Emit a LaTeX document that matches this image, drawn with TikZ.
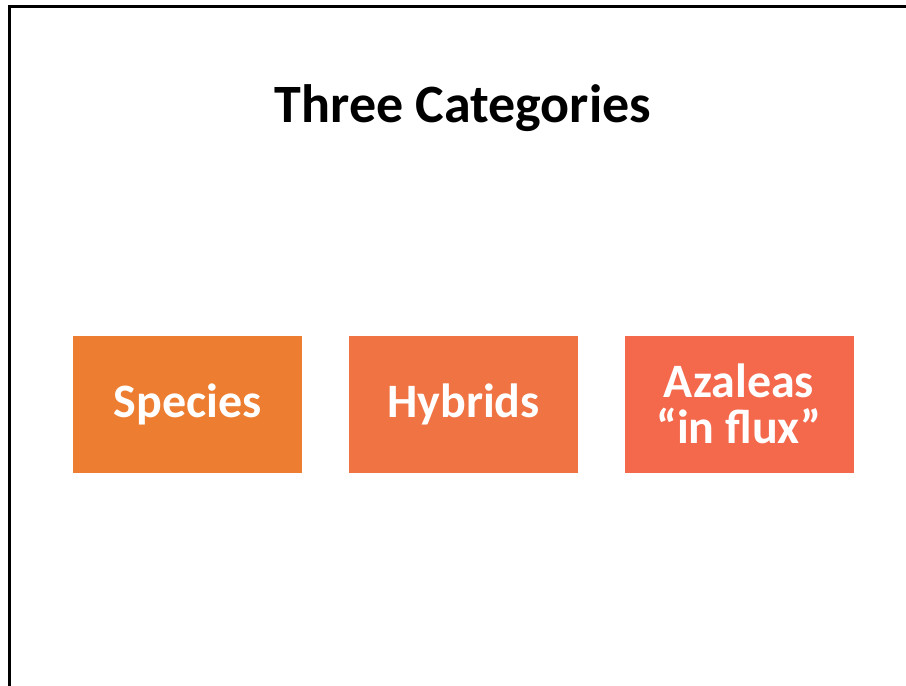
\documentclass[tikz,border=0pt]{standalone}
\usepackage{fontspec}
\setmainfont{Carlito}
\definecolor{speciesfill}{HTML}{ED7D31}
\definecolor{hybridfill}{HTML}{F07343}
\definecolor{fluxfill}{HTML}{F4684C}
\begin{document}
\begin{tikzpicture}[x=1pt,y=-1pt,
  catbox/.style={minimum width=229pt,minimum height=137pt,inner sep=0pt,
    text=white,align=center,font=\fontsize{48}{46}\selectfont\bfseries},
  heading/.style={font=\fontsize{54}{60}\selectfont\bfseries,text=black,inner sep=0pt},
  frameline/.style={line width=3pt,black}]
\useasboundingbox (0,0) rectangle (906,686);
% slide frame (left and top edges)
\coordinate (fbl) at (9.5,690);
\coordinate (ftl) at (9.5,6.5);
\coordinate (ftr) at (906,6.5);
\draw[frameline] (fbl) -- (ftl) -- (ftr);
% title
\node[heading] (title) at (463,108) {Three Categories};
% category boxes
\node[catbox,fill=speciesfill] (species) at (187.5,404) {Species};
\node[catbox,fill=hybridfill] (hybrids) at (463.5,404) {Hybrids};
\node[catbox,fill=fluxfill] (flux) at (739,404) {Azaleas\\“in flux”};
\end{tikzpicture}
\end{document}
